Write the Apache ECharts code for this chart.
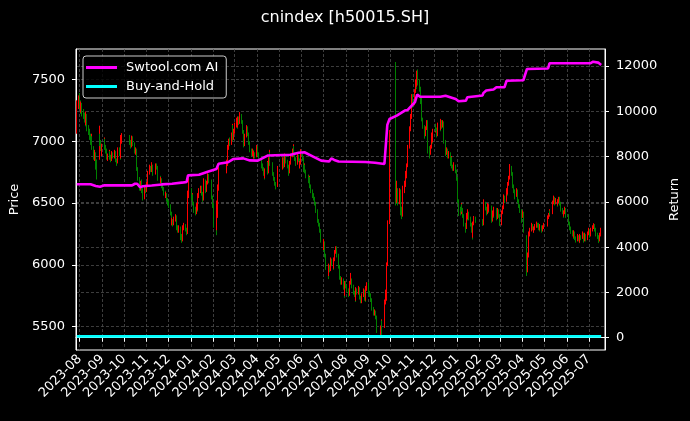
<!DOCTYPE html>
<html>
<head>
<meta charset="utf-8">
<script src="https://cdn.jsdelivr.net/npm/echarts@6/dist/echarts.min.js"></script>
<style>
html,body{margin:0;padding:0;background:#000;}
#chart{width:690px;height:421px;}
</style>
</head>
<body>
<div id="chart"></div>
<script>
// ---------- DATA ----------
const chartTitle = 'cnindex [h50015.SH]';
const seriesNames = ['Swtool.com AI', 'Buy-and-Hold'];

// exchange holidays (weekdays without trading)
const holidays = ['2023-09-29','2023-10-02','2023-10-03','2023-10-04','2023-10-05','2023-10-06',
  '2024-01-01','2024-02-09','2024-02-12','2024-02-13','2024-02-14','2024-02-15','2024-02-16',
  '2024-04-04','2024-04-05','2024-05-01','2024-05-02','2024-05-03','2024-06-10','2024-09-16','2024-09-17',
  '2024-10-01','2024-10-02','2024-10-03','2024-10-04','2024-10-07',
  '2025-01-01','2025-01-28','2025-01-29','2025-01-30','2025-01-31','2025-02-03','2025-02-04',
  '2025-04-04','2025-05-01','2025-05-02','2025-05-05','2025-06-02'];
const firstDay = [2023, 7, 28];
const lastDay = [2025, 7, 18];

// month tick labels
const monthTicks = ['2023-08','2023-09','2023-10','2023-11','2023-12','2024-01','2024-02','2024-03','2024-04',
  '2024-05','2024-06','2024-07','2024-08','2024-09','2024-10','2024-11','2024-12','2025-01','2025-02','2025-03',
  '2025-04','2025-05','2025-06','2025-07'];
const priceTicks = [5500, 6000, 6500, 7000, 7500];
const returnTicks = [0, 2000, 4000, 6000, 8000, 10000, 12000];

// daily bars per month: [open, close, low, high]
const bars_2023_07 = [[7080,7300,7060,7330],[7300,7340,7260,7370]];
const bars_2023_08 = [[7340,7280,7260,7390],[7280,7250,7220,7330],[7250,7300,7230,7320],[7300,7230,7200,7310],
 [7230,7200,7180,7260],[7200,7180,7150,7230],[7180,7150,7120,7200],[7150,7210,7130,7240],[7210,7100,7080,7220],
 [7100,7080,7050,7130],[7080,7040,7010,7100],[7040,7000,6970,7060],[7000,7030,6980,7060],[7030,6950,6930,7040],
 [6950,6880,6850,6960],[6880,6900,6840,6930],[6900,6800,6770,6910],[6800,6830,6700,6850],[6830,6760,6690,6850],
 [6860,7040,6850,7125],[7040,6990,6960,7060],[6990,6950,6920,7010],[6950,6900,6880,6970]];
const bars_2023_09 = [[6900,6960,6880,6980],[6960,7010,6940,7030],[7010,6950,6930,7020],[6950,6930,6900,6970],
 [6930,6870,6850,6940],[6870,6880,6840,6900],[6880,6910,6860,6930],[6910,6870,6850,6920],[6870,6850,6830,6890],
 [6850,6900,6840,6920],[6900,6880,6860,6910],[6880,6900,6860,6930],[6900,6870,6850,6920],[6870,6850,6830,6880],
 [6850,6830,6800,6860],[6830,6930,6820,6950],[6930,6900,6880,6950],[6900,6870,6850,6920],[6870,7000,6860,7050],
 [7000,7040,6980,7065]];
const bars_2023_10 = [[7040,6990,6970,7050],[6990,6960,6940,7010],[6960,7000,6950,7020],[7000,7030,6990,7045],
 [7030,6980,6960,7040],[6980,6920,6900,6990],[6920,6930,6890,6950],[6930,6860,6840,6940],[6860,6780,6760,6870],
 [6780,6700,6680,6790],[6700,6620,6600,6710],[6620,6660,6600,6680],[6660,6640,6620,6690],[6640,6600,6580,6660],
 [6600,6560,6520,6620],[6560,6620,6530,6640],[6620,6600,6580,6650]];
const bars_2023_11 = [[6600,6650,6590,6670],[6650,6700,6640,6720],[6700,6740,6690,6760],[6740,6790,6730,6810],
 [6790,6770,6750,6800],[6770,6800,6750,6830],[6800,6760,6740,6810],[6760,6740,6720,6770],[6740,6780,6730,6800],
 [6780,6800,6770,6820],[6800,6790,6770,6820],[6790,6720,6700,6800],[6720,6700,6680,6740],[6700,6680,6660,6720],
 [6680,6690,6660,6710],[6690,6640,6620,6700],[6640,6620,6600,6660],[6620,6580,6560,6630],[6580,6560,6540,6600],
 [6560,6570,6540,6590],[6570,6530,6510,6580],[6530,6500,6480,6540]];
const bars_2023_12 = [[6500,6480,6460,6520],[6480,6420,6400,6490],[6420,6340,6320,6430],[6340,6360,6320,6380],
 [6360,6330,6310,6370],[6330,6370,6320,6390],[6370,6390,6350,6410],[6390,6360,6340,6400],[6360,6300,6280,6370],
 [6300,6280,6260,6320],[6280,6300,6260,6320],[6300,6240,6200,6310],[6240,6220,6180,6250],[6220,6200,6180,6240],
 [6200,6300,6190,6320],[6300,6320,6280,6340],[6320,6290,6270,6330],[6290,6260,6240,6300],[6260,6380,6250,6400],
 [6380,6560,6370,6600],[6560,6600,6540,6700]];
const bars_2024_01 = [[6600,6540,6520,6620],[6540,6560,6520,6580],[6560,6500,6480,6570],[6500,6460,6420,6510],
 [6460,6420,6400,6470],[6420,6480,6410,6500],[6480,6450,6430,6490],[6450,6560,6440,6580],[6560,6600,6540,6620],
 [6600,6620,6580,6640],[6620,6580,6560,6640],[6580,6530,6510,6590],[6530,6620,6520,6640],[6620,6680,6600,6700],
 [6680,6600,6580,6690],[6600,6660,6590,6680],[6660,6720,6650,6740],[6720,6700,6680,6735],[6700,6680,6660,6720],
 [6680,6620,6600,6690],[6620,6550,6530,6630],[6550,6480,6460,6560]];
const bars_2024_02 = [[6480,6430,6420,6500],[6430,6330,6300,6440],[6330,6300,6240,6350],[6300,6500,6280,6520],
 [6500,6620,6380,6650],[6620,6760,6600,6790],[6760,6820,6740,6850],[6820,6870,6800,6890],[6870,6950,6860,6970],
 [6950,7000,6930,7020],[7000,6980,6960,7030],[6980,7050,6970,7070],[7050,7120,7040,7140],[7120,7020,7000,7130],
 [7020,7080,7010,7100]];
const bars_2024_03 = [[7080,7130,7060,7150],[7130,7170,7110,7190],[7170,7120,7100,7180],[7120,7180,7110,7200],
 [7180,7150,7130,7200],[7150,7200,7140,7235],[7200,7160,7140,7220],[7160,7080,7060,7170],[7080,7020,7000,7090],
 [7020,6970,6950,7030],[6970,7040,6960,7060],[7040,7110,7030,7130],[7110,7060,7040,7120],[7060,7020,7000,7070],
 [7020,6990,6970,7030],[6990,6930,6910,7000],[6930,6900,6880,6940],[6900,6920,6880,6940],[6920,6880,6860,6930],
 [6880,6900,6860,6920],[6900,6880,6860,6910]];
const bars_2024_04 = [[6880,6950,6870,6970],[6950,6900,6880,6960],[6900,6860,6840,6910],[6860,6800,6780,6870],
 [6800,6780,6760,6820],[6780,6740,6720,6790],[6740,6720,6690,6750],[6720,6760,6700,6780],[6760,6820,6750,6840],
 [6820,6750,6730,6830],[6750,6850,6740,6870],[6850,6900,6840,6930],[6900,6820,6800,6910],[6820,6780,6760,6830],
 [6780,6740,6720,6790],[6740,6700,6680,6750],[6700,6660,6640,6710],[6660,6640,6610,6670],[6640,6720,6630,6740],
 [6720,6780,6710,6800]];
const bars_2024_05 = [[6780,6850,6770,6870],[6850,6830,6810,6870],[6830,6800,6780,6840],[6800,6880,6790,6900],
 [6880,6840,6820,6890],[6840,6800,6780,6850],[6800,6770,6750,6810],[6770,6750,6720,6780],[6750,6820,6740,6840],
 [6820,6880,6810,6900],[6880,6920,6870,6940],[6920,6950,6900,6975],[6950,6900,6880,6960],[6900,6860,6840,6910],
 [6860,6820,6800,6870],[6820,6880,6810,6900],[6880,6850,6830,6890],[6850,6800,6780,6860],[6800,6820,6780,6840],
 [6820,6900,6810,6935]];
const bars_2024_06 = [[6900,6860,6840,6910],[6860,6780,6750,6870],[6780,6800,6760,6820],[6800,6760,6740,6810],
 [6760,6720,6700,6770],[6720,6680,6660,6730],[6680,6700,6660,6720],[6700,6640,6620,6710],[6640,6600,6580,6650],
 [6600,6560,6540,6610],[6560,6540,6520,6580],[6540,6500,6480,6550],[6500,6470,6450,6510],[6470,6440,6420,6480],
 [6440,6360,6340,6450],[6360,6330,6310,6370],[6330,6280,6260,6340],[6280,6240,6220,6290],[6240,6200,6180,6250]];
const bars_2024_07 = [[6200,6130,6110,6210],[6130,6180,6120,6210],[6180,6080,6060,6190],[6080,6020,6000,6090],
 [6020,5980,5960,6030],[5980,5920,5885,5990],[5920,5990,5910,6010],[5990,5960,5940,6000],[5960,6040,5950,6060],
 [6040,6010,5990,6050],[6010,5980,5960,6020],[5980,6040,5970,6060],[6040,6100,6030,6120],[6100,6140,6090,6150],
 [6140,6080,6060,6150],[6080,5990,5970,6090],[5990,5930,5910,6000],[5930,5900,5880,5940],[5900,5860,5840,5910],
 [5860,5880,5840,5900],[5880,5820,5800,5890],[5820,5760,5735,5830],[5760,5850,5750,5870]];
const bars_2024_08 = [[5850,5830,5810,5870],[5830,5800,5780,5840],[5800,5760,5740,5810],[5760,5800,5750,5820],
 [5800,5850,5790,5870],[5850,5880,5840,5935],[5880,5830,5810,5890],[5830,5780,5760,5840],[5780,5760,5740,5790],
 [5760,5720,5700,5770],[5720,5800,5710,5820],[5800,5780,5760,5810],[5780,5810,5760,5830],[5810,5740,5720,5820],
 [5740,5720,5700,5750],[5720,5700,5690,5730],[5700,5750,5690,5770],[5750,5790,5740,5810],[5790,5730,5710,5800],
 [5730,5720,5700,5740],[5720,5800,5710,5830],[5800,5850,5790,5860]];
const bars_2024_09 = [[5850,5780,5760,5860],[5780,5760,5740,5790],[5760,5720,5700,5770],[5720,5700,5680,5730],
 [5700,5650,5630,5710],[5650,5610,5590,5660],[5610,5620,5590,5640],[5620,5580,5560,5630],[5580,5530,5510,5590],
 [5530,5480,5450,5540],[5480,5500,5430,5510],[5500,5540,5480,5560],[5540,5510,5425,5550],[5510,5550,5490,5570],
 [5550,5700,5540,5720],[5700,5720,5680,5800],[5720,6000,5710,6020],[6000,6340,5990,6360],[6340,6980,6330,7090]];
const bars_2024_10 = [[7600,6950,6900,7640],[6950,6550,6480,6960],[6550,6600,6500,6680],[6600,6500,6480,6620],
 [6500,6600,6490,6620],[6600,6480,6460,6610],[6480,6450,6400,6500],[6450,6400,6370,6470],[6400,6600,6390,6640],
 [6600,6650,6580,6680],[6650,6700,6630,6720],[6700,6720,6680,6760],[6720,6800,6700,6820],[6800,6950,6790,6970],
 [6950,7100,6940,7120],[7100,7200,7080,7220],[7200,7280,7180,7300],[7280,7350,7260,7380]];
const bars_2024_11 = [[7350,7300,7270,7380],[7300,7400,7290,7420],[7400,7480,7390,7500],[7480,7450,7420,7530],
 [7450,7530,7440,7570],[7530,7480,7450,7580],[7480,7420,7400,7500],[7420,7330,7300,7440],[7330,7300,7280,7350],
 [7300,7180,7160,7310],[7180,7120,7100,7190],[7120,7050,7020,7130],[7050,7100,7040,7120],[7100,7150,7090,7170],
 [7150,7120,7100,7170],[7120,6950,6900,7130],[6950,6900,6860,6960],[6900,6950,6890,6970],[6950,7050,6940,7070],
 [7050,7000,6980,7060],[7000,7080,6990,7100]];
const bars_2024_12 = [[7080,7120,7070,7140],[7120,7100,7080,7140],[7100,7050,7030,7110],[7050,7080,7040,7100],
 [7080,7130,7070,7150],[7130,7100,7080,7140],[7100,7160,7090,7180],[7160,7120,7100,7170],[7120,7150,7110,7170],
 [7150,7000,6980,7160],[7000,6960,6940,7010],[6960,6900,6880,6970],[6900,6930,6890,6950],[6930,6880,6860,6940],
 [6880,6900,6860,6920],[6900,6820,6800,6910],[6820,6860,6810,6880],[6860,6800,6780,6870],[6800,6780,6760,6810],
 [6780,6800,6760,6830],[6800,6760,6740,6810],[6760,6700,6680,6770]];
const bars_2025_01 = [[6700,6520,6500,6710],[6520,6450,6395,6530],[6450,6420,6400,6470],[6420,6480,6410,6500],
 [6480,6450,6430,6490],[6450,6400,6380,6460],[6400,6330,6310,6410],[6330,6300,6260,6340],[6300,6400,6290,6420],
 [6400,6380,6360,6410],[6380,6420,6370,6450],[6420,6380,6360,6430],[6380,6330,6310,6390],[6330,6280,6260,6340],
 [6280,6230,6205,6290],[6230,6330,6220,6350],[6330,6380,6320,6395],[6380,6360,6340,6390]];
const bars_2025_02 = [[6360,6330,6315,6370],[6330,6420,6320,6440],[6420,6500,6410,6530],[6500,6460,6440,6510],
 [6460,6420,6400,6470],[6420,6480,6410,6500],[6480,6440,6420,6490],[6440,6470,6430,6490],[6470,6430,6410,6480],
 [6430,6360,6340,6440],[6360,6420,6350,6440],[6420,6400,6380,6430],[6400,6450,6390,6470],[6450,6420,6400,6460],
 [6420,6380,6360,6430],[6380,6440,6370,6460],[6440,6400,6380,6450],[6400,6330,6315,6410]];
const bars_2025_03 = [[6330,6380,6320,6400],[6380,6420,6370,6440],[6420,6460,6410,6480],[6460,6550,6450,6570],
 [6550,6520,6500,6560],[6520,6600,6510,6620],[6600,6580,6560,6610],[6580,6650,6570,6670],[6650,6700,6640,6720],
 [6700,6780,6690,6815],[6780,6740,6720,6800],[6740,6700,6680,6750],[6700,6640,6620,6710],[6640,6600,6580,6650],
 [6600,6560,6530,6610],[6560,6600,6550,6620],[6600,6580,6560,6610],[6580,6520,6500,6590],[6520,6480,6460,6530],
 [6480,6440,6420,6490],[6440,6400,6340,6450]];
const bars_2025_04 = [[6400,6420,6380,6440],[6420,6380,6360,6430],[6380,6300,6260,6390],[6230,5950,5910,6240],
 [5950,6080,5940,6100],[6080,6160,6060,6180],[6160,6250,6150,6270],[6250,6280,6230,6300],[6280,6320,6270,6340],
 [6320,6300,6280,6330],[6300,6280,6260,6310],[6280,6290,6260,6310],[6290,6310,6280,6330],[6310,6330,6300,6350],
 [6330,6320,6300,6340],[6320,6300,6280,6340],[6300,6290,6270,6310],[6290,6310,6280,6330],[6310,6280,6260,6320],
 [6280,6300,6270,6320],[6300,6320,6290,6340]];
const bars_2025_05 = [[6320,6380,6310,6400],[6380,6400,6370,6420],[6400,6430,6390,6450],[6430,6420,6400,6440],
 [6420,6480,6410,6500],[6480,6500,6470,6520],[6500,6540,6490,6560],[6540,6500,6480,6550],[6500,6520,6490,6540],
 [6520,6490,6470,6530],[6490,6510,6480,6530],[6510,6540,6500,6550],[6540,6500,6480,6550],[6500,6450,6430,6510],
 [6450,6430,6410,6460],[6430,6400,6380,6440],[6400,6420,6390,6440],[6420,6450,6410,6470],[6450,6400,6380,6460]];
const bars_2025_06 = [[6400,6360,6340,6410],[6360,6340,6320,6370],[6340,6300,6280,6350],[6300,6270,6250,6310],
 [6270,6250,6230,6280],[6250,6230,6210,6260],[6230,6260,6220,6280],[6260,6220,6200,6270],[6220,6200,6180,6230],
 [6200,6230,6190,6250],[6230,6210,6190,6240],[6210,6190,6176,6220],[6190,6230,6180,6250],[6230,6220,6200,6240],
 [6220,6250,6210,6270],[6250,6200,6180,6260],[6200,6220,6190,6240],[6220,6240,6210,6260],[6240,6210,6190,6250],
 [6210,6250,6200,6270]];
const bars_2025_07 = [[6250,6280,6240,6300],[6280,6260,6240,6290],[6260,6240,6220,6270],[6240,6280,6230,6300],
 [6280,6300,6270,6320],[6300,6320,6290,6337],[6320,6290,6270,6330],[6290,6270,6250,6300],[6270,6250,6230,6280],
 [6250,6230,6210,6260],[6230,6200,6176,6240],[6200,6240,6190,6260],[6240,6260,6230,6280],[6260,6280,6250,6300]];

const barMonths = ['2023-07','2023-08','2023-09','2023-10','2023-11','2023-12','2024-01','2024-02','2024-03',
  '2024-04','2024-05','2024-06','2024-07','2024-08','2024-09','2024-10','2024-11','2024-12','2025-01','2025-02',
  '2025-03','2025-04','2025-05','2025-06','2025-07'];
const barBlocks = [bars_2023_07,bars_2023_08,bars_2023_09,bars_2023_10,bars_2023_11,bars_2023_12,bars_2024_01,
  bars_2024_02,bars_2024_03,bars_2024_04,bars_2024_05,bars_2024_06,bars_2024_07,bars_2024_08,bars_2024_09,
  bars_2024_10,bars_2024_11,bars_2024_12,bars_2025_01,bars_2025_02,bars_2025_03,bars_2025_04,bars_2025_05,
  bars_2025_06,bars_2025_07];

// strategy return line
const aiDates = ['2023-07-28','2023-08-16','2023-08-23','2023-08-29','2023-09-04','2023-10-12','2023-10-16',
  '2023-10-19','2023-10-23','2023-10-27','2023-11-08','2023-11-22','2023-12-06','2023-12-22','2023-12-26',
  '2023-12-28','2024-01-12','2024-01-24','2024-02-05','2024-02-07','2024-02-08','2024-02-21','2024-02-28',
  '2024-03-13','2024-03-22','2024-04-02','2024-04-16','2024-05-17','2024-05-28','2024-06-05','2024-06-17',
  '2024-06-28','2024-07-09','2024-07-12','2024-07-16','2024-07-22','2024-08-28','2024-09-10','2024-09-23',
  '2024-09-25','2024-09-27','2024-09-30','2024-10-10','2024-10-21','2024-10-25','2024-11-04','2024-11-07',
  '2024-11-11','2024-12-09','2024-12-16','2024-12-30','2025-01-03','2025-01-13','2025-01-15','2025-01-17',
  '2025-02-05','2025-02-06','2025-02-10','2025-02-20','2025-02-24','2025-03-07','2025-03-10','2025-04-02',
  '2025-04-07','2025-05-06','2025-05-08','2025-07-03','2025-07-07','2025-07-14','2025-07-18'];
const aiValues = [6775,6775,6700,6670,6730,6730,6800,6800,6650,6690,6720,6770,6800,6860,6880,
  7170,7200,7330,7450,7520,7680,7750,7890,7920,7830,7820,8050,8080,8170,8190,8000,
  7820,7780,7920,7850,7780,7760,7730,7672,7720,9400,9660,9810,10030,10060,10400,10740,
  10640,10645,10690,10544,10440,10470,10620,10690,10700,10800,10920,10960,11060,11060,11350,11370,
  11870,11890,12120,12120,12190,12150,12045];

// buy-and-hold return line
const bhDates = ['2023-07-28','2024-01-02','2024-07-01','2025-01-02','2025-07-18'];
const bhValues = [60, 60, 60, 60, 60];

// ---------- BUILD ----------
function pad(n){ return (n < 10 ? '0' : '') + n; }
function fmt(d){ return d.getFullYear() + '-' + pad(d.getMonth() + 1) + '-' + pad(d.getDate()); }
function toTs(s) { const p = s.split('-').map(Number); return new Date(p[0], p[1] - 1, p[2] || 1).getTime(); }
function buildTradingDays() {
  const hol = new Set(holidays);
  const out = [];
  const d = new Date(firstDay[0], firstDay[1] - 1, firstDay[2]);
  const end = new Date(lastDay[0], lastDay[1] - 1, lastDay[2]);
  while (d <= end) {
    const wd = d.getDay();
    const s = fmt(d);
    if (wd !== 0 && wd !== 6 && !hol.has(s)) out.push(s);
    d.setDate(d.getDate() + 1);
  }
  return out;
}
const tradingDays = buildTradingDays();
const candleData = [];
barMonths.forEach(function (m, i) {
  const days = tradingDays.filter(function (s) { return s.indexOf(m) === 0; });
  const rows = barBlocks[i];
  const n = Math.min(days.length, rows.length);
  for (let k = 0; k < n; k++) {
    candleData.push([toTs(days[k]), rows[k][0], rows[k][1], rows[k][2], rows[k][3]]);
  }
});
const monthTickTs = monthTicks.map(function (m) { return toTs(m + '-01'); });
const aiData = aiDates.map(function (d, i) { return [toTs(d), aiValues[i]]; });
const bhData = bhDates.map(function (d, i) { return [toTs(d), bhValues[i]]; });

const xMin = new Date(2023, 6, 26, 22, 0).getTime();
const xMax = new Date(2025, 6, 23, 7, 0).getTime();

const FONT = 'DejaVu Sans';
const gridLine = { show: true, lineStyle: { color: '#4d4d4d', width: 0.8, type: [3, 2] } };
const plainNum = function (v) { return String(v); };

const chart = echarts.init(document.getElementById('chart'), null, { renderer: 'canvas' });
chart.setOption({
  backgroundColor: '#000',
  animation: false,
  textStyle: { fontFamily: FONT },
  title: {
    text: chartTitle, left: 'center', top: 5,
    textStyle: { color: '#fff', fontSize: 16, fontWeight: 'normal', fontFamily: FONT }
  },
  legend: {
    data: seriesNames,
    orient: 'vertical',
    left: 83, top: 56,
    padding: [5, 8, 5, 3],
    itemGap: 6,
    itemWidth: 31, itemHeight: 3,
    icon: 'rect',
    backgroundColor: 'rgba(0,0,0,0.8)',
    borderColor: '#cccccc', borderWidth: 1, borderRadius: 3,
    textStyle: { color: '#fff', fontSize: 13, fontFamily: FONT, padding: [0, 0, 0, 4] }
  },
  grid: { left: 75, right: 85, top: 49, bottom: 71, show: true, borderColor: '#fff', borderWidth: 1, backgroundColor: 'transparent' },
  xAxis: {
    type: 'value', min: xMin, max: xMax,
    axisLine: { lineStyle: { color: '#fff', width: 1 } },
    axisTick: { show: true, length: 4, lineStyle: { color: '#fff' }, customValues: monthTickTs },
    axisLabel: {
      customValues: monthTickTs, rotate: 45, color: '#fff', fontSize: 13, fontFamily: FONT, margin: 7,
      formatter: function (v) { const d = new Date(v); return d.getFullYear() + '-' + pad(d.getMonth() + 1); }
    },
    splitLine: gridLine
  },
  yAxis: [
    {
      type: 'value', position: 'left', min: 5312, max: 7745,
      name: 'Price', nameLocation: 'middle', nameGap: 51,
      nameTextStyle: { color: '#fff', fontSize: 13, fontFamily: FONT },
      axisLine: { show: true, lineStyle: { color: '#fff', width: 1 } },
      axisTick: { show: true, length: 4, lineStyle: { color: '#fff' }, customValues: priceTicks },
      axisLabel: { customValues: priceTicks, color: '#fff', fontSize: 13, fontFamily: FONT, margin: 11, formatter: plainNum },
      splitLine: gridLine
    },
    {
      type: 'value', position: 'right', min: -543, max: 12751,
      name: 'Return', nameLocation: 'middle', nameGap: 60,
      nameTextStyle: { color: '#fff', fontSize: 13, fontFamily: FONT },
      axisLine: { show: true, lineStyle: { color: '#fff', width: 1 } },
      axisTick: { show: true, length: 4, lineStyle: { color: '#fff' }, customValues: returnTicks },
      axisLabel: { customValues: returnTicks, color: '#fff', fontSize: 13, fontFamily: FONT, margin: 11, formatter: plainNum },
      splitLine: gridLine
    }
  ],
  series: [
    {
      type: 'candlestick', name: 'price', xAxisIndex: 0, yAxisIndex: 0,
      data: candleData, encode: { x: 0, y: [1, 2, 3, 4] },
      barWidth: 1,
      itemStyle: { color: '#ff0000', color0: '#008000', borderColor: '#ff0000', borderColor0: '#008000', borderWidth: 1 },
      z: 2
    },
    {
      type: 'line', name: seriesNames[0], yAxisIndex: 1, data: aiData,
      showSymbol: false, symbol: 'none',
      lineStyle: { color: '#ff00ff', width: 2.6 }, itemStyle: { color: '#ff00ff' }, z: 4
    },
    {
      type: 'line', name: seriesNames[1], yAxisIndex: 1, data: bhData,
      showSymbol: false, symbol: 'none',
      lineStyle: { color: '#00ffff', width: 2.6 }, itemStyle: { color: '#00ffff' }, z: 4
    }
  ]
});
</script>
</body>
</html>
